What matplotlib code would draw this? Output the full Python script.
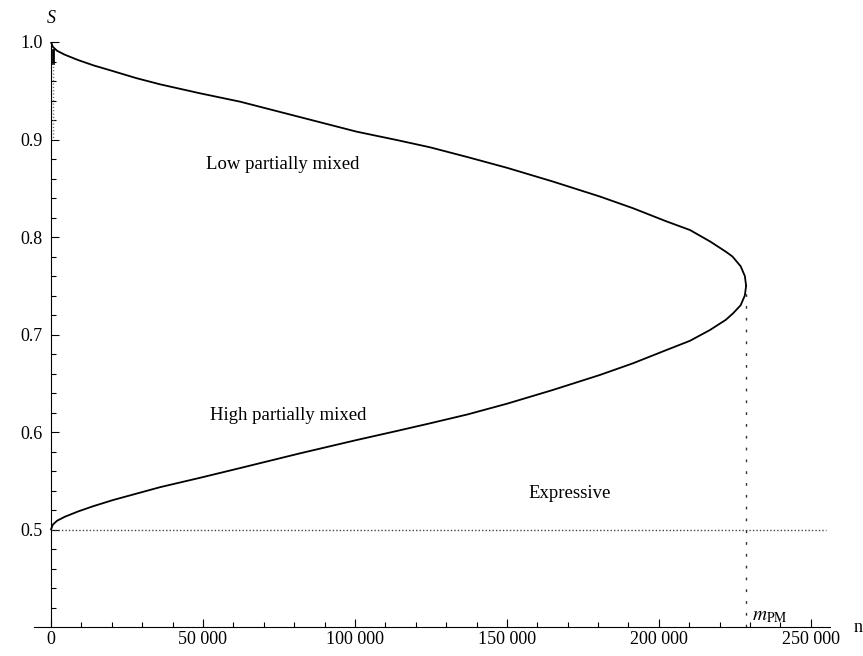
import matplotlib
matplotlib.use("Agg")
import matplotlib.pyplot as plt
from matplotlib.ticker import FixedLocator, FuncFormatter

# upper branch (low partially mixed), n -> S
upper_n = [0, 600, 2000, 4500, 8900, 14000, 20000, 28000, 36000, 49000, 62200, 81900,
           100600, 113700, 124700, 137000, 150000, 165000, 180600, 191500, 202500,
           210200, 216800, 222000, 224200, 226900, 228280, 228700]
upper_s = [1.000, 0.995, 0.991, 0.987, 0.9815, 0.976, 0.9705, 0.963, 0.9565, 0.9474,
           0.9388, 0.923, 0.908, 0.8995, 0.892, 0.882, 0.871, 0.857, 0.8415, 0.8295,
           0.816, 0.8072, 0.7955, 0.785, 0.780, 0.770, 0.760, 0.750]

# lower branch (high partially mixed), from the turning point back to n = 0
lower_n = [228700, 228280, 226900, 224400, 222000, 216800, 210200, 202500, 191500,
           180600, 165000, 150000, 137000, 124700, 113700, 100600, 81900, 62200, 49000,
           36000, 20500, 14000, 8900, 4500, 2000, 600, 0]
lower_s = [0.750, 0.740, 0.730, 0.7217, 0.715, 0.7046, 0.6935, 0.6841, 0.6705,
           0.6585, 0.643, 0.629, 0.618, 0.6089, 0.601, 0.5918, 0.5781, 0.563, 0.553,
           0.5435, 0.5303, 0.524, 0.5185, 0.513, 0.509, 0.505, 0.500]

# short stub of the upper solution hugging the S axis
stub_n = [700, 700]
stub_s = [0.992, 0.978]
trace_n = [500, 500]
trace_s = [0.978, 0.90]

m_pm = 228700
s_expressive = 0.5
expressive_end = 255000

x_major = [0, 50000, 100000, 150000, 200000, 250000]
x_minor = [v for v in range(10000, 251000, 10000) if v % 50000]
y_major = [0.5, 0.6, 0.7, 0.8, 0.9, 1.0]
y_minor = [0.42, 0.44, 0.46, 0.48, 0.52, 0.54, 0.56, 0.58, 0.62, 0.64, 0.66, 0.68,
           0.72, 0.74, 0.76, 0.78, 0.82, 0.84, 0.86, 0.88, 0.92, 0.94, 0.96, 0.98]

plt.rcParams["font.family"] = ["Liberation Serif", "DejaVu Serif"]
plt.rcParams["mathtext.fontset"] = "stix"

W, H = 863, 656
fig = plt.figure(figsize=(W / 100, H / 100), dpi=100)
ax = fig.add_axes([34.3 / W, 1 - 627 / H, (830 - 34.3) / W, (627 - 42) / H])
ax.set_xlim(-5500, 256300)
ax.set_ylim(0.4, 1.0)

for side in ("top", "right"):
    ax.spines[side].set_visible(False)
ax.spines["left"].set_position(("data", 0))
for side in ("left", "bottom"):
    ax.spines[side].set_linewidth(0.8)

ax.plot(upper_n, upper_s, color="black", lw=1.3, solid_joinstyle="round",
        solid_capstyle="round")
ax.plot(lower_n, lower_s, color="black", lw=1.3, solid_joinstyle="round",
        solid_capstyle="round")
ax.plot(stub_n, stub_s, color="black", lw=2.0)
ax.plot(trace_n, trace_s, color="#666666", lw=1.0, linestyle=(0, (0.8, 1.6)))
ax.plot([0, expressive_end], [s_expressive, s_expressive], color="#444444", lw=1.0,
        linestyle=(0, (1, 1.5)))
ax.plot([m_pm, m_pm], [0.4, 0.75], color="#333333", lw=1.0, linestyle=(0, (2, 6.5)))

ax.xaxis.set_major_locator(FixedLocator(x_major))
ax.xaxis.set_minor_locator(FixedLocator(x_minor))
ax.yaxis.set_major_locator(FixedLocator(y_major))
ax.yaxis.set_minor_locator(FixedLocator(y_minor))
ax.xaxis.set_major_formatter(FuncFormatter(lambda v, p: f"{int(v):,}".replace(",", " ")))
ax.yaxis.set_major_formatter(FuncFormatter(lambda v, p: f"{v:.1f}"))

ax.tick_params(which="both", direction="in", width=0.8, labelsize=13)
ax.tick_params(which="major", length=5.8)
ax.tick_params(which="minor", length=3.6)
ax.tick_params(axis="y", which="major", pad=5.8)
ax.tick_params(axis="x", which="major", pad=3)

ax.text(76300, 0.874, "Low partially mixed", ha="center", va="center", fontsize=13.5)
ax.text(78100, 0.617, "High partially mixed", ha="center", va="center", fontsize=13.5)
ax.text(170600, 0.537, "Expressive", ha="center", va="center", fontsize=13.5)
ax.text(230500, 0.402, r"$m_{\mathrm{PM}}$", ha="left", va="bottom", fontsize=14)
ax.text(0, 1.0236, "S", style="italic", ha="center", va="center", fontsize=13,
        clip_on=False)
ax.text(265500, 0.4, "n", ha="center", va="center", fontsize=13, clip_on=False)

fig.savefig("out.png", dpi=100)
